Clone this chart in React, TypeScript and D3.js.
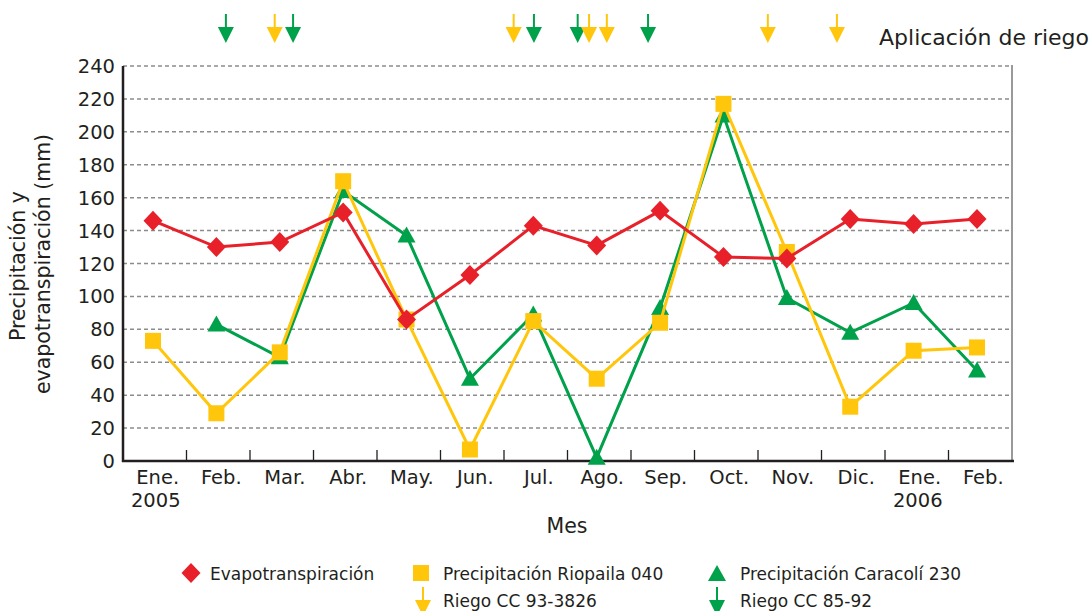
import React from 'react';
import * as d3 from 'd3';

// month labels (two lines where a year is shown)
const months = ['Ene.', 'Feb.', 'Mar.', 'Abr.', 'May.', 'Jun.', 'Jul.', 'Ago.', 'Sep.', 'Oct.', 'Nov.', 'Dic.', 'Ene.', 'Feb.'];
const years = ['2005', '', '', '', '', '', '', '', '', '', '', '', '2006', ''];

const evapo = [146, 130, 133, 151, 86, 113, 143, 131, 152, 124, 123, 147, 144, 147];
const riopaila = [73, 29, 66, 170, 86, 7, 85, 50, 84, 217, 127, 33, 67, 69];
const caracoli = [null, 83, 63, 164, 137, 50, 89, 2, 93, 210, 99, 78, 96, 55];

// irrigation dates as fractional month index (0 = Ene. 2005)
const riegoCC933826 = [1.92, 5.69, 6.88, 7.16, 9.7, 10.79];
const riegoCC8592 = [1.15, 2.21, 6.01, 6.7, 7.81];

const yTicks = [0, 20, 40, 60, 80, 100, 120, 140, 160, 180, 200, 220, 240];

const RED = '#E8202A';
const YELLOW = '#FFC60B';
const GREEN = '#00A14B';
const FONT = 'DejaVu Sans, Verdana, sans-serif';
const TXT = '#231F20';

const left = 123, right = 1012, top = 66, bottom = 461;

const Arrow = ({ x, y, color }: { x: number; y: number; color: string }) => (
  <g>
    <line x1={x} x2={x} y1={y} y2={y + 14} stroke={color} strokeWidth={2} />
    <path d={`M${x - 8},${y + 13} L${x + 8},${y + 13} L${x},${y + 29} Z`} fill={color} />
  </g>
);

const Diamond = ({ x, y }: { x: number; y: number }) => (
  <path d={`M${x},${y - 10} L${x + 9.5},${y} L${x},${y + 10} L${x - 9.5},${y} Z`} fill={RED} />
);
const Square = ({ x, y }: { x: number; y: number }) => (
  <rect x={x - 8} y={y - 8} width={16} height={16} fill={YELLOW} />
);
const Triangle = ({ x, y }: { x: number; y: number }) => (
  <path d={`M${x},${y - 9} L${x + 9},${y + 7} L${x - 9},${y + 7} Z`} fill={GREEN} />
);

export default function App() {
  const idx = months.map((_, i) => i);
  const x = d3.scaleBand<number>().domain(idx).range([left, right]);
  const bw = x.bandwidth();
  // data points sit slightly left of the band centres in the original
  const px = d3.scalePoint<number>().domain(idx).range([153, 977]);
  const cx = (i: number) => px(i) as number;
  const xDate = d3.scaleLinear().domain([0, months.length - 1]).range([153, 977]);
  const y = d3.scaleLinear().domain([0, 240]).range([bottom, top]);

  const line = d3
    .line<number | null>()
    .defined((d) => d !== null)
    .x((_, i) => cx(i))
    .y((d) => y(d as number));

  return (
    <svg width={1091} height={611} style={{ position: 'absolute', left: 0, top: 0, background: '#fff' }} fontFamily={FONT}>
      {/* irrigation arrows */}
      {riegoCC8592.map((m, i) => (
        <Arrow key={'g' + i} x={xDate(m)} y={14} color={GREEN} />
      ))}
      {riegoCC933826.map((m, i) => (
        <Arrow key={'y' + i} x={xDate(m)} y={14} color={YELLOW} />
      ))}
      <text x={879} y={45} fontSize={22} fill={TXT}>Aplicación de riego</text>

      {/* grid */}
      {yTicks.filter((t) => t > 0).map((t) => (
        <line key={t} x1={left} x2={right} y1={y(t)} y2={y(t)} stroke="#8C8C8C" strokeWidth={1.5} strokeDasharray="4,3" />
      ))}
      <line x1={right} x2={right} y1={top - 1} y2={bottom} stroke="#9A9A9A" strokeWidth={2} />

      {/* y axis */}
      <line x1={left} x2={left} y1={top} y2={bottom + 1} stroke={TXT} strokeWidth={2.5} />
      {yTicks.map((t) => (
        <text key={t} x={115} y={y(t) + 7} textAnchor="end" fontSize={19.5} fill={TXT}>{t}</text>
      ))}
      <text transform={`translate(25,266) rotate(-90)`} textAnchor="middle" fontSize={20.5} fill={TXT}>Precipitación y</text>
      <text transform={`translate(50,264) rotate(-90)`} textAnchor="middle" fontSize={20.5} fill={TXT}>evapotranspiración (mm)</text>

      {/* x axis */}
      <line x1={left - 1} x2={right + 2} y1={bottom} y2={bottom} stroke={TXT} strokeWidth={2.5} />
      {idx.slice(1).map((i) => (
        <line key={i} x1={x(i) as number} x2={x(i) as number} y1={bottom} y2={bottom - 11} stroke={TXT} strokeWidth={1.3} />
      ))}
      {months.map((m, i) => (
        <g key={i}>
          <text x={(x(i) as number) + bw / 2 + 3} y={484} textAnchor="middle" fontSize={19.5} fill={TXT}>{m}</text>
          {years[i] && (
            <text x={(x(i) as number) + bw / 2 + 1} y={507} textAnchor="middle" fontSize={19.5} fill={TXT}>{years[i]}</text>
          )}
        </g>
      ))}
      <text x={567} y={533} textAnchor="middle" fontSize={20.5} fill={TXT}>Mes</text>

      {/* series */}
      <path d={line(caracoli) as string} fill="none" stroke={GREEN} strokeWidth={3} />
      {caracoli.map((v, i) => (v === null ? null : <Triangle key={i} x={cx(i)} y={y(v)} />))}
      <path d={line(riopaila) as string} fill="none" stroke={YELLOW} strokeWidth={3} />
      {riopaila.map((v, i) => <Square key={i} x={cx(i)} y={y(v)} />)}
      <path d={line(evapo) as string} fill="none" stroke={RED} strokeWidth={3} />
      {evapo.map((v, i) => <Diamond key={i} x={cx(i)} y={y(v)} />)}

      {/* legend */}
      <Diamond x={191} y={573} />
      <text x={210} y={580} fontSize={17} fill={TXT}>Evapotranspiración</text>
      <Square x={421} y={573} />
      <text x={443} y={580} fontSize={17} fill={TXT}>Precipitación Riopaila 040</text>
      <Triangle x={717} y={574} />
      <text x={740} y={580} fontSize={17} fill={TXT}>Precipitación Caracolí 230</text>
      <Arrow x={423} y={587} color={YELLOW} />
      <text x={443} y={607} fontSize={17} fill={TXT}>Riego CC 93-3826</text>
      <Arrow x={717} y={587} color={GREEN} />
      <text x={740} y={607} fontSize={17} fill={TXT}>Riego CC 85-92</text>
    </svg>
  );
}
